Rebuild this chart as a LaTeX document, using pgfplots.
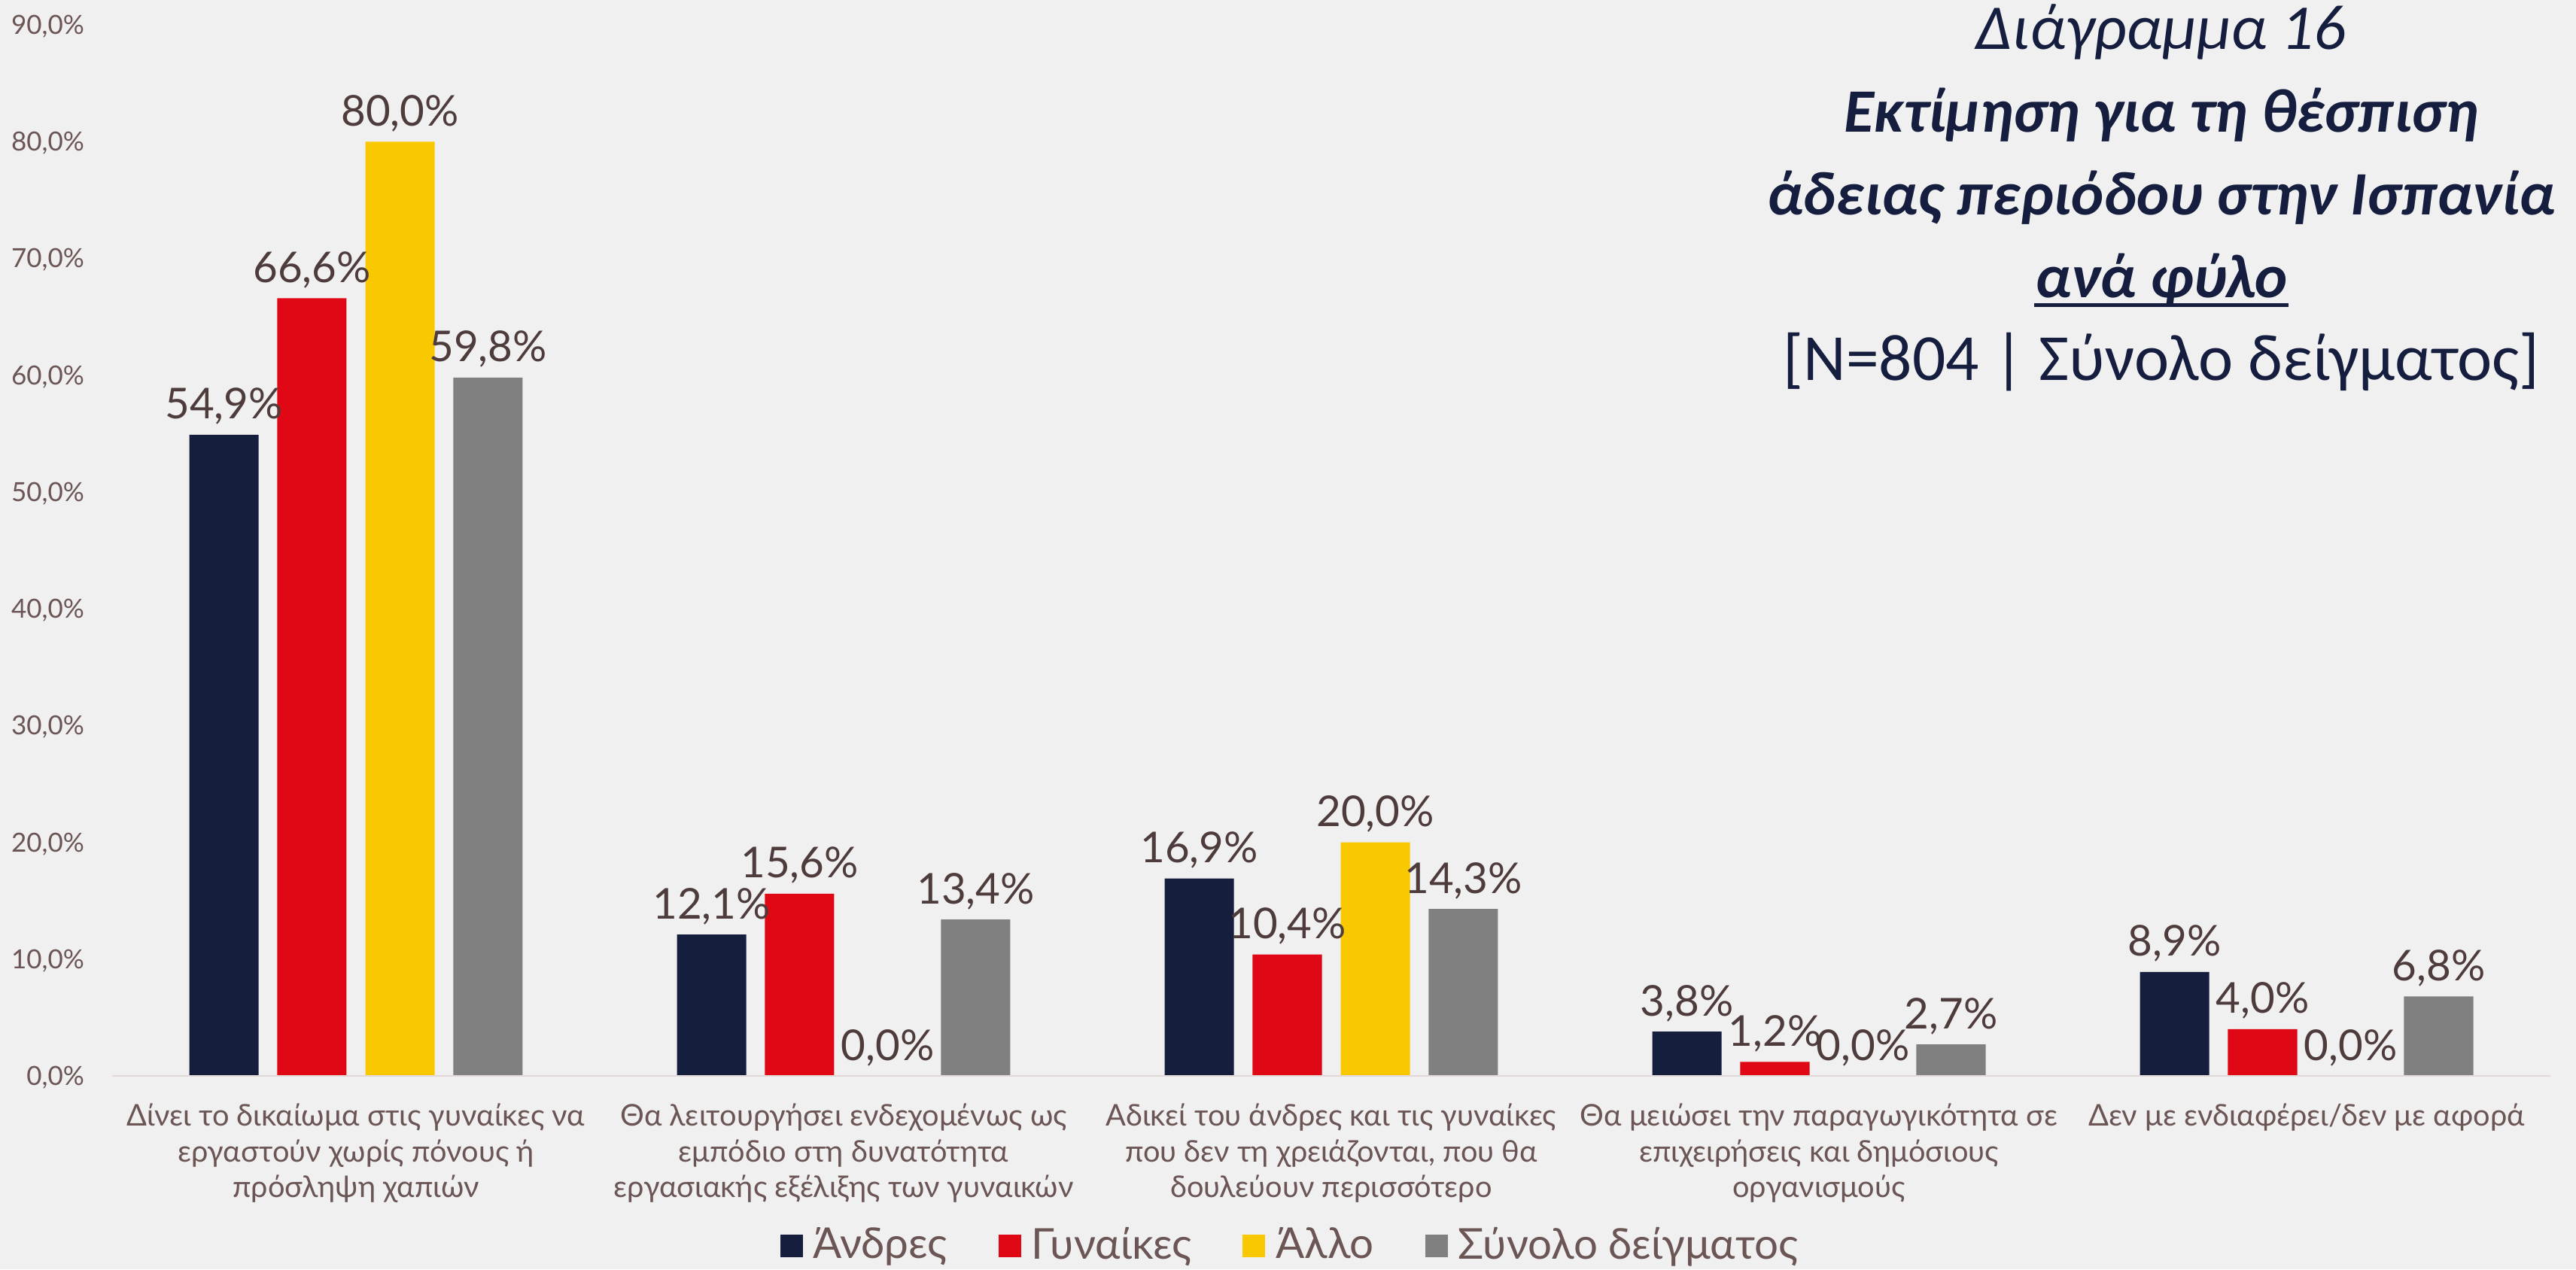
\documentclass[border=0pt]{standalone}
\usepackage{fontspec}
\setmainfont{Lato}
\newfontfamily\carlito{Carlito}
\usepackage{pgfplots}
\pgfplotsset{compat=1.18}
\definecolor{bg}{HTML}{F0F0F0}
\definecolor{cnavy}{HTML}{151E3D}
\definecolor{cred}{HTML}{E00814}
\definecolor{cyel}{HTML}{FAC800}
\definecolor{cgray}{HTML}{808080}
\definecolor{ctxt}{HTML}{6B5555}
\definecolor{clab}{HTML}{4E3C3C}
\definecolor{ctitle}{HTML}{161E3F}
\definecolor{cbase}{HTML}{E2D8D8}
\pgfkeys{/pgf/number format/assume math mode=true}
\begin{document}
\begin{tikzpicture}
\path[use as bounding box, fill=bg] (0,0) rectangle (684.6pt,-337.4pt);
\begin{axis}[
  at={(29.8pt,-286pt)}, anchor=south west,
  scale only axis, width=648pt, height=279.4pt,
  xmin=-0.5, xmax=4.5, ymin=0, ymax=90,
  ybar, bar width=0.142,
  axis line style={draw=none}, major tick length=0pt,
  ytick={0,10,...,90},
  yticklabel={\pgfmathprintnumber[fixed,fixed zerofill,precision=1,use comma]{\tick}\%},
  yticklabel style={anchor=east, inner sep=0pt, text height=5pt, text depth=0pt, xshift=-7.2pt,
    font=\fontsize{7}{8}\selectfont, text=ctxt},
  xtick={0,1,2,3,4},
  xticklabels={{Δίνει το δικαίωμα στις γυναίκες να\\εργαστούν χωρίς πόνους ή\\πρόσληψη χαπιών},
    {Θα λειτουργήσει ενδεχομένως ως\\εμπόδιο στη δυνατότητα\\εργασιακής εξέλιξης των γυναικών},
    {Αδικεί του άνδρες και τις γυναίκες\\που δεν τη χρειάζονται, που θα\\δουλεύουν περισσότερο},
    {Θα μειώσει την παραγωγικότητα σε\\επιχειρήσεις και δημόσιους\\οργανισμούς},
    {Δεν με ενδιαφέρει/δεν με αφορά}},
  xticklabel style={anchor=north, align=center, inner sep=0pt, yshift=-7.2pt,
    font=\fontsize{7.95}{9.5}\selectfont, text=ctxt},
  nodes near coords={\pgfmathprintnumber[fixed,fixed zerofill,precision=1,use comma]{\pgfplotspointmeta}\%},
  every node near coord/.append style={anchor=base, yshift=4.2pt, inner sep=0pt,
    font=\fontsize{11.3}{13}\selectfont, text=clab},
  legend columns=4,
  legend style={at={(0.4827,-0.1618)}, anchor=center, draw=none, fill=none,
    inner sep=0pt, outer sep=0pt,
    font=\fontsize{11.3}{13}\selectfont, text=ctxt,
    nodes={inner sep=0pt},
    /tikz/every odd column/.append style={column sep=2.8pt},
    /tikz/every even column/.append style={column sep=13.6pt}},
  legend cell align=left,
]
\addplot[fill=cnavy, draw=none, bar shift=-0.2708,
  legend image code/.code={\fill[cnavy] (0pt,-3pt) rectangle (6pt,3pt);}]
  coordinates {(0,54.9) (1,12.1) (2,16.9) (3,3.8) (4,8.9)};
\addplot[fill=cred, draw=none, bar shift=-0.0903,
  legend image code/.code={\fill[cred] (0pt,-3pt) rectangle (6pt,3pt);}]
  coordinates {(0,66.6) (1,15.6) (2,10.4) (3,1.2) (4,4.0)};
\addplot[fill=cyel, draw=none, bar shift=0.0903,
  legend image code/.code={\fill[cyel] (0pt,-3pt) rectangle (6pt,3pt);}]
  coordinates {(0,80.0) (1,0.0) (2,20.0) (3,0.0) (4,0.0)};
\addplot[fill=cgray, draw=none, bar shift=0.2708,
  legend image code/.code={\fill[cgray] (0pt,-3pt) rectangle (6pt,3pt);}]
  coordinates {(0,59.8) (1,13.4) (2,14.3) (3,2.7) (4,6.8)};
\legend{Άνδρες, Γυναίκες, Άλλο, Σύνολο δείγματος}
\draw[cbase, line width=0.6pt] (axis cs:-0.5,0) -- (axis cs:4.5,0);
\end{axis}
\begin{scope}[every node/.style={anchor=base, inner sep=0pt, text=ctitle}]
\node[font=\carlito\itshape\fontsize{17}{22}\selectfont] at (574.4pt,-13pt) {Διάγραμμα 16};
\node[font=\carlito\bfseries\itshape\fontsize{16.4}{22}\selectfont] at (574.4pt,-35pt) {Εκτίμηση για τη θέσπιση};
\node[font=\carlito\bfseries\itshape\fontsize{16.4}{22}\selectfont] at (574.4pt,-57pt) {άδειας περιόδου στην Ισπανία};
\node[font=\carlito\bfseries\itshape\fontsize{16.4}{22}\selectfont] (n4) at (574.4pt,-79pt) {ανά φύλο};
\node[font=\carlito\fontsize{17.5}{22}\selectfont] at (574.4pt,-101pt) {[N=804 | Σύνολο δείγματος]};
\end{scope}
\draw[ctitle, line width=1pt] ([yshift=-2pt]n4.base west) -- ([yshift=-2pt]n4.base east);
\end{tikzpicture}
\end{document}
